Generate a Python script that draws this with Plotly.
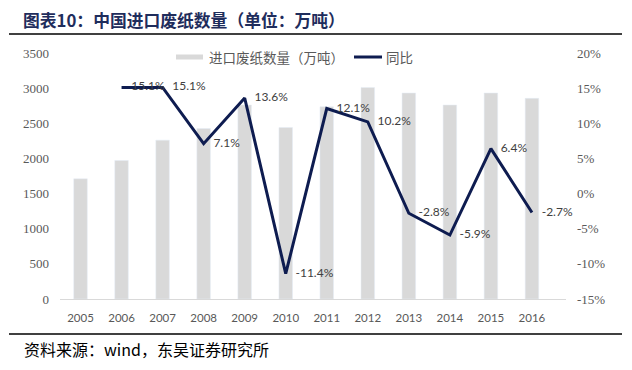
import plotly.graph_objects as go

years = [str(y) for y in range(2005, 2017)]
imports = [1710, 1970, 2260, 2425, 2760, 2440, 2735, 3010, 2930, 2760, 2930, 2855]
yoy_years = years[1:]
yoy = [15.1, 15.1, 7.1, 13.6, -11.4, 12.1, 10.2, -2.8, -5.9, 6.4, -2.7]
left_ticks = list(range(0, 3501, 500))
right_ticks = list(range(-15, 21, 5))
right_ticktext = [f"{v}%" for v in right_ticks]
yoy_text = [f"{v}%" for v in yoy]

title = "图表10：中国进口废纸数量（单位：万吨）"
source = "资料来源：wind，东吴证券研究所"
bar_name = "进口废纸数量（万吨）"
line_name = "同比"

W, H = 632, 370
L, R, T, B = 60, 566, 53, 299

def px(x):
    return (x - L) / (R - L)

def py(y):
    return (B - y) / (B - T)

BAR_COLOR = "#D9D9D9"
LINE_COLOR = "#0E1C50"
TICK_COLOR = "#595959"
CJK = "Noto Sans CJK SC"

fig = go.Figure()
fig.add_trace(go.Bar(x=years, y=imports, name=bar_name, marker_color=BAR_COLOR,
                     width=0.33, showlegend=False))
fig.add_trace(go.Scatter(x=yoy_years, y=yoy, yaxis="y2", mode="lines", name=line_name,
                         line=dict(color=LINE_COLOR, width=3), showlegend=False))
fig.add_trace(go.Scatter(x=yoy_years, y=yoy, yaxis="y2", mode="markers+text",
                         text=yoy_text, textposition="middle right",
                         marker=dict(size=14, color="rgba(0,0,0,0)"),
                         textfont=dict(family="Lato", size=12, color="#404040"),
                         cliponaxis=False, showlegend=False, hoverinfo="skip"))

shapes = [
    dict(type="line", xref="paper", yref="paper", x0=px(9), x1=px(622), y0=py(34), y1=py(34),
         line=dict(color="#000000", width=1.5)),
    dict(type="line", xref="paper", yref="paper", x0=px(9), x1=px(622), y0=py(334), y1=py(334),
         line=dict(color="#000000", width=1.5)),
    dict(type="rect", xref="paper", yref="paper", x0=px(176), x1=px(203), y0=py(59.5), y1=py(54.5),
         fillcolor=BAR_COLOR, line=dict(width=0)),
    dict(type="line", xref="paper", yref="paper", x0=px(354), x1=px(382), y0=py(57), y1=py(57),
         line=dict(color=LINE_COLOR, width=3)),
]

annotations = [
    dict(text=f"<b>{title}</b>", xref="paper", yref="paper", x=px(21), y=py(20),
         xanchor="left", yanchor="middle", showarrow=False,
         font=dict(family=CJK, size=16.8, color="#1F2D5C")),
    dict(text=source, xref="paper", yref="paper", x=px(22), y=py(349),
         xanchor="left", yanchor="middle", showarrow=False,
         font=dict(family=CJK, size=16, color="#000000")),
    dict(text=bar_name, xref="paper", yref="paper", x=px(207), y=py(57),
         xanchor="left", yanchor="middle", showarrow=False,
         font=dict(family=CJK, size=13.5, color=TICK_COLOR)),
    dict(text=line_name, xref="paper", yref="paper", x=px(384), y=py(57),
         xanchor="left", yanchor="middle", showarrow=False,
         font=dict(family=CJK, size=13.5, color=TICK_COLOR)),
]

fig.update_layout(
    width=W, height=H,
    margin=dict(l=L, r=W - R, t=T, b=H - B, pad=0),
    plot_bgcolor="white", paper_bgcolor="white",
    shapes=shapes, annotations=annotations,
    showlegend=False,
    xaxis=dict(type="category", showline=True, linecolor=BAR_COLOR, linewidth=1,
               ticks="", showgrid=False, zeroline=False, ticklabelstandoff=8,
               tickfont=dict(family="Lato", size=11.5, color=TICK_COLOR)),
    yaxis=dict(range=[0, 3500], tickvals=left_ticks, showgrid=False, zeroline=False,
               showline=False, ticks="", ticklabelstandoff=10,
               tickfont=dict(family="Liberation Serif", size=13, color=TICK_COLOR)),
    yaxis2=dict(range=[-15, 20], tickvals=right_ticks, ticktext=right_ticktext,
                overlaying="y", side="right", showgrid=False, zeroline=False,
                showline=False, ticks="", ticklabelstandoff=10,
                tickfont=dict(family="Liberation Serif", size=13, color=TICK_COLOR)),
)

fig.write_html("out.html", config={"displayModeBar": False},
               post_script="document.body.style.margin='0';document.body.style.overflow='hidden';")
